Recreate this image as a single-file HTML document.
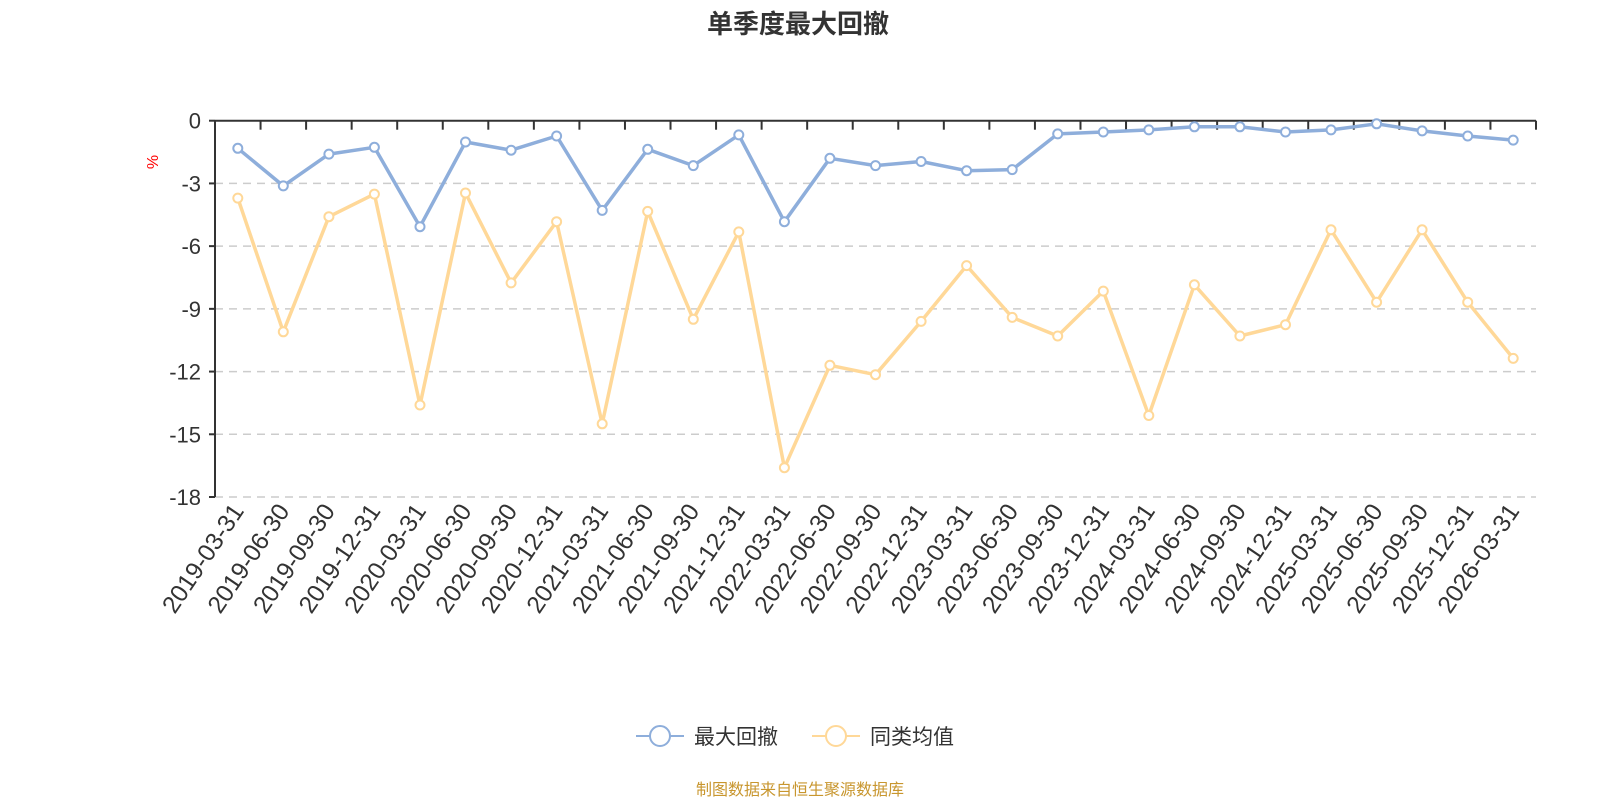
<!DOCTYPE html>
<html><head><meta charset="utf-8"><style>
body{margin:0;background:#fff;}
svg{display:block;font-family:"Liberation Sans","Noto Sans CJK SC",sans-serif;}
</style></head><body>
<svg id="c" width="1600" height="800" xmlns="http://www.w3.org/2000/svg">
<text x="798" y="33" text-anchor="middle" font-size="26" font-weight="bold" fill="#333">单季度最大回撤</text>
<text transform="translate(158,162) rotate(-90)" text-anchor="middle" font-size="16" fill="#f00">%</text>
<g id="g"></g>
<g transform="translate(0,736)">
<line x1="636" y1="0" x2="684" y2="0" stroke="#8eaedb" stroke-width="2"/>
<circle cx="660" cy="0" r="10" fill="#fff" stroke="#8eaedb" stroke-width="2"/>
<text x="694" y="8" font-size="21" fill="#333">最大回撤</text>
<line x1="812" y1="0" x2="860" y2="0" stroke="#ffd898" stroke-width="2"/>
<circle cx="836" cy="0" r="10" fill="#fff" stroke="#ffd898" stroke-width="2"/>
<text x="870" y="8" font-size="21" fill="#333">同类均值</text>
</g>
<text x="800" y="795" text-anchor="middle" font-size="16" fill="#c8962e">制图数据来自恒生聚源数据库</text>
</svg>
<script>
var L=215,R=1536,T=120.7,B=497,n=29,w=(R-L)/n,k=(B-T)/18;
var blue=[-1.32,-3.12,-1.6,-1.27,-5.07,-1.02,-1.41,-0.73,-4.29,-1.37,-2.15,-0.68,-4.83,-1.8,-2.15,-1.95,-2.39,-2.34,-0.63,-0.54,-0.44,-0.29,-0.29,-0.54,-0.44,-0.15,-0.49,-0.73,-0.93];
var org=[-3.7,-10.1,-4.59,-3.51,-13.6,-3.46,-7.76,-4.83,-14.5,-4.34,-9.5,-5.32,-16.6,-11.7,-12.15,-9.6,-6.93,-9.41,-10.3,-8.15,-14.1,-7.85,-10.3,-9.76,-5.22,-8.68,-5.22,-8.68,-11.37];
var s='';
for(var i=0;i<=6;i++){var y=T+i*3*k;
 if(i>0)s+='<line x1="'+L+'" y1="'+y+'" x2="'+R+'" y2="'+y+'" stroke="#ccc" stroke-width="1.5" stroke-dasharray="8,6"/>';
 s+='<line x1="'+(L-6)+'" y1="'+y+'" x2="'+L+'" y2="'+y+'" stroke="#333" stroke-width="2"/>';
 s+='<text x="'+(L-14)+'" y="'+(y+8)+'" text-anchor="end" font-size="22" fill="#333">'+(i==0?'0':-3*i)+'</text>';}
s+='<line x1="'+L+'" y1="'+T+'" x2="'+L+'" y2="'+B+'" stroke="#333" stroke-width="2"/>';
s+='<line x1="'+L+'" y1="'+T+'" x2="'+R+'" y2="'+T+'" stroke="#333" stroke-width="2"/>';
for(var i=0;i<=n;i++){var x=L+i*w;s+='<line x1="'+x+'" y1="'+T+'" x2="'+x+'" y2="'+(T+9)+'" stroke="#333" stroke-width="2"/>';}
var labs=[],yy=2019,q=['03-31','06-30','09-30','12-31'];
for(var i=0;i<n;i++){labs.push((yy+Math.floor(i/4))+'-'+q[i%4]);}
for(var i=0;i<n;i++){var x=L+(i+0.5)*w;
 s+='<text transform="translate('+(x+7)+','+(B+14)+') rotate(-56)" text-anchor="end" font-size="24.5" fill="#333">'+labs[i]+'</text>';}
function ser(d,c){var p=d.map(function(v,i){return (L+(i+0.5)*w).toFixed(1)+','+(T-v*k).toFixed(1);});
 var r='<polyline points="'+p.join(' ')+'" fill="none" stroke="'+c+'" stroke-width="3.5" stroke-linejoin="round"/>';
 p.forEach(function(pt){var a=pt.split(',');r+='<circle cx="'+a[0]+'" cy="'+a[1]+'" r="4.5" fill="#fff" stroke="'+c+'" stroke-width="2"/>';});return r;}
s+=ser(org,'#ffd898')+ser(blue,'#8eaedb');
document.getElementById('g').innerHTML=s;
</script>
</body></html>
